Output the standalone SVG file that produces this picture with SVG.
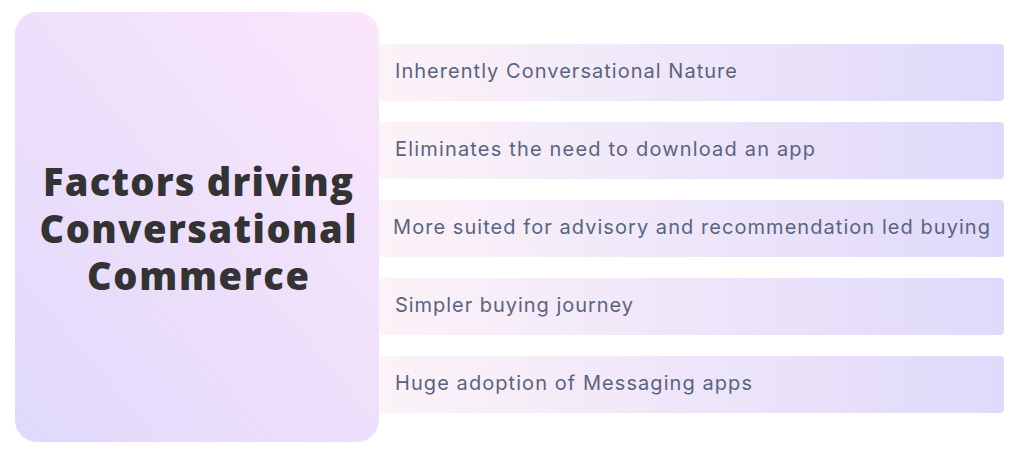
<svg xmlns="http://www.w3.org/2000/svg" width="1024" height="452" viewBox="0 0 1024 452">
<defs>
<linearGradient id="lg" x1="0" y1="1" x2="1" y2="0"><stop offset="0" stop-color="#e0d9fb"/><stop offset="1" stop-color="#fbe6fb"/></linearGradient>
<linearGradient id="rg" x1="0" y1="0" x2="1" y2="0"><stop offset="0" stop-color="#fcf3f8"/><stop offset="1" stop-color="#e0d9fa"/></linearGradient>
<style>.r{fill:url(#rg)}.t{font-family:Inter,"Open Sans",sans-serif;font-size:20px;fill:#5a6480}.h{font-family:"Open Sans",Inter,sans-serif;font-weight:800;font-size:38px;fill:#333;text-anchor:middle}</style>
</defs>
<rect width="1024" height="452" fill="#fff"/>
<g id="main"><rect x="15" y="12" width="364" height="430" rx="22" fill="url(#lg)"/>
<text class="h"><tspan x="198" y="196" textLength="310">Factors driving</tspan><tspan x="198" y="243" textLength="317">Conversational</tspan><tspan x="198" y="290" textLength="222">Commerce</tspan></text></g>
<g id="f1"><rect class="r" x="379" y="44" width="625" height="57" rx="4"/><text class="t" x="395" y="78" textLength="342">Inherently Conversational Nature</text></g>
<g id="f2"><rect class="r" x="379" y="122" width="625" height="57" rx="4"/><text class="t" x="395" y="156" textLength="420">Eliminates the need to download an app</text></g>
<g id="f3"><rect class="r" x="379" y="200" width="625" height="57" rx="4"/><text class="t" x="393" y="234" textLength="597">More suited for advisory and recommendation led buying</text></g>
<g id="f4"><rect class="r" x="379" y="278" width="625" height="57" rx="4"/><text class="t" x="395" y="312" textLength="238">Simpler buying journey</text></g>
<g id="f5"><rect class="r" x="379" y="356" width="625" height="57" rx="4"/><text class="t" x="395" y="390" textLength="357">Huge adoption of Messaging apps</text></g>
<g id="connectors"/>
</svg>
